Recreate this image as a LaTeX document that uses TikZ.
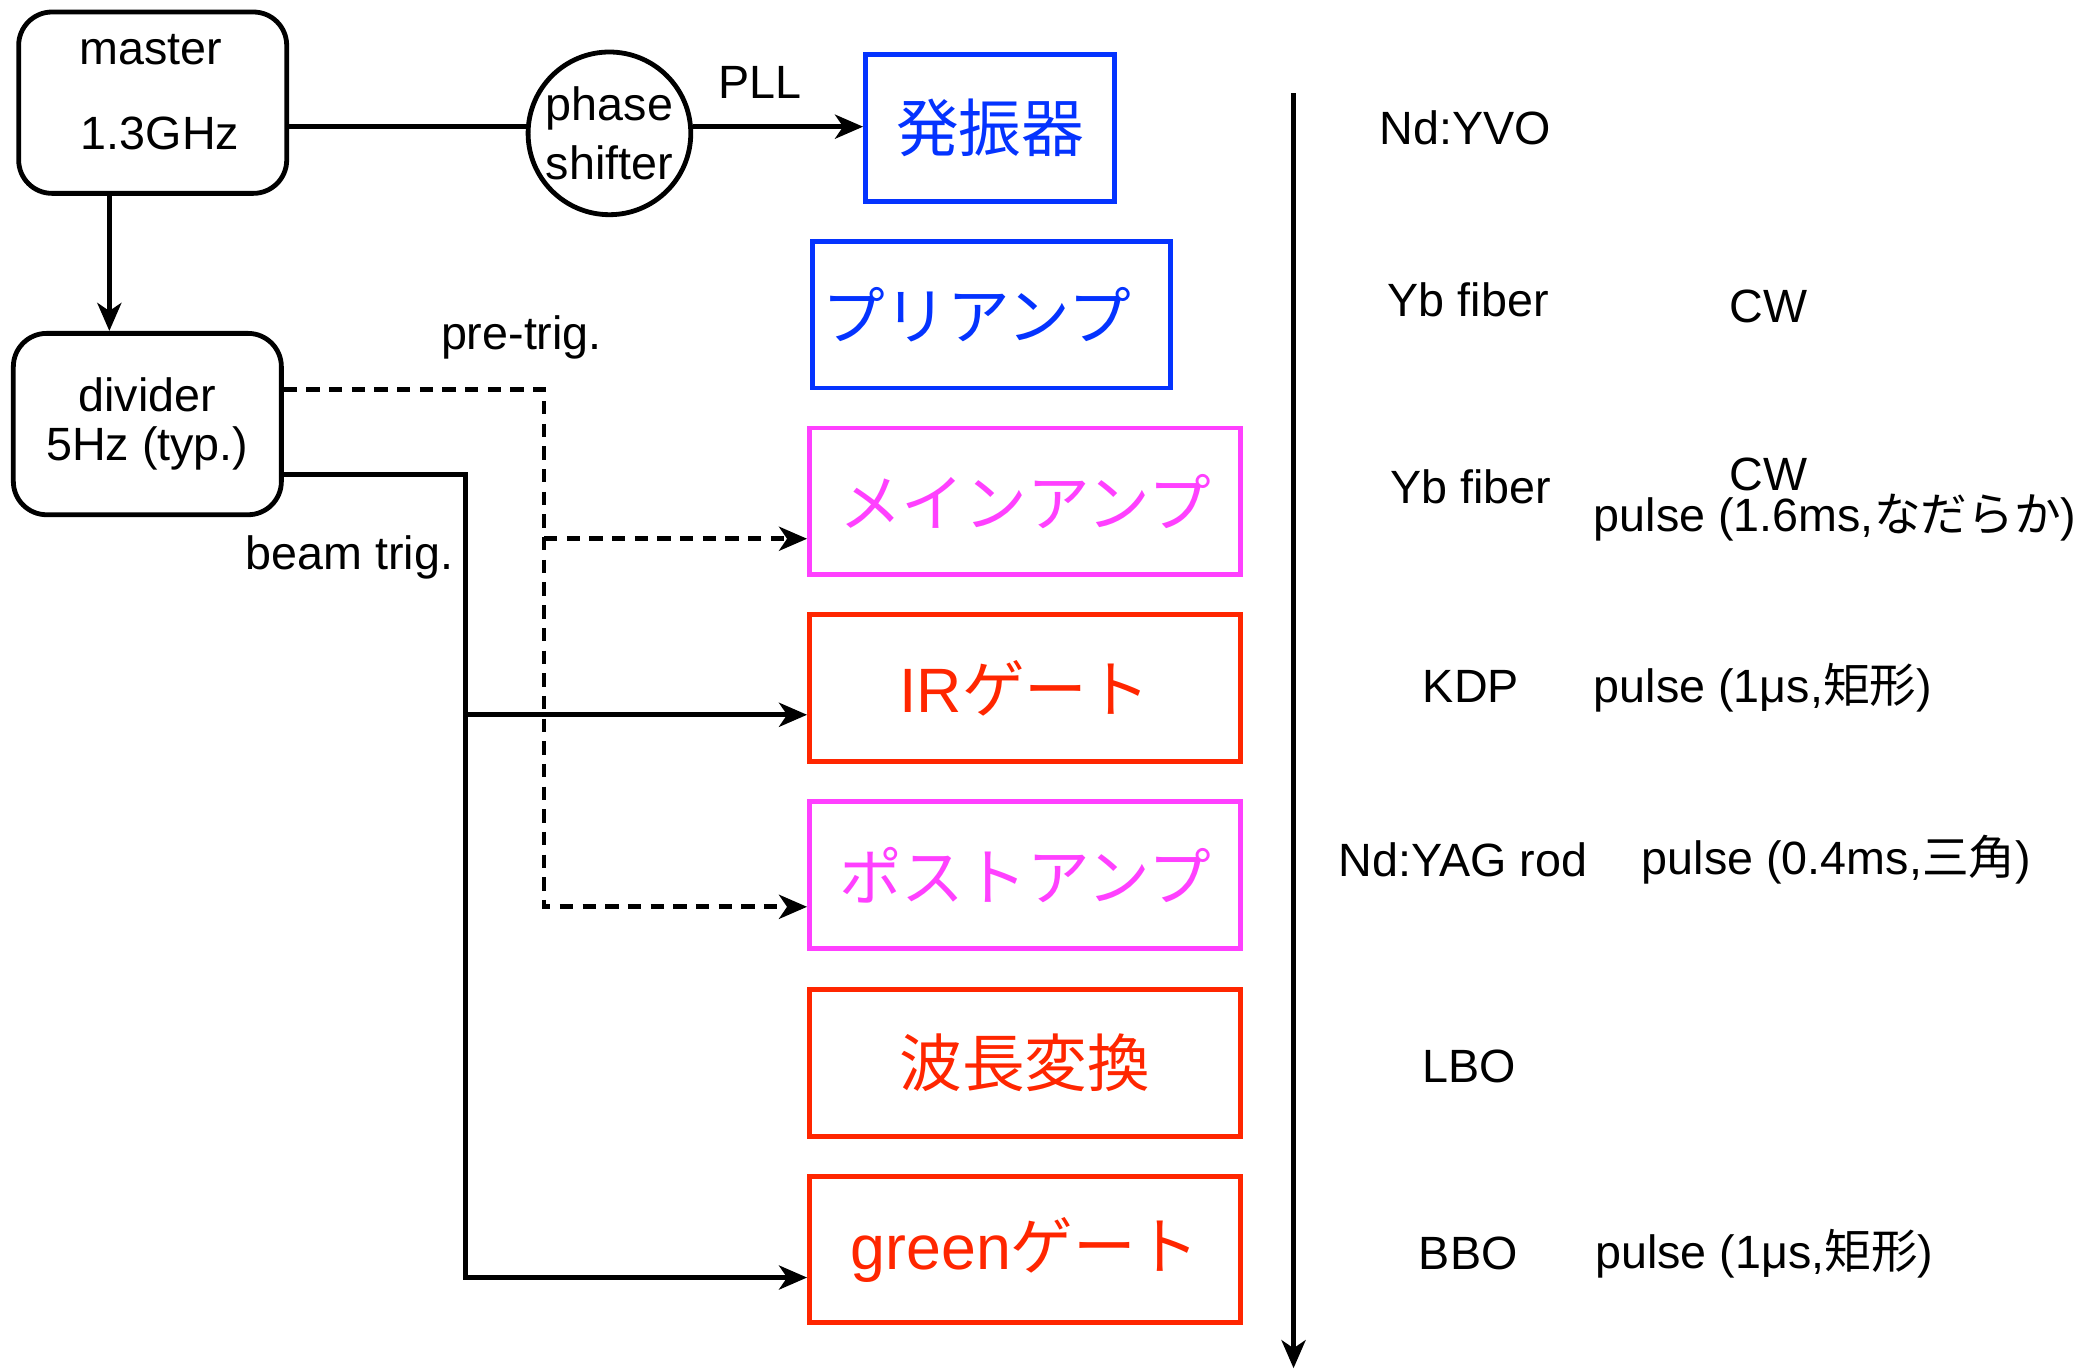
\documentclass[tikz,border=0pt]{standalone}
\usepackage{fontspec}
\setmainfont{Liberation Sans}
\newfontfamily\jp{Noto Sans CJK JP}
\usetikzlibrary{arrows.meta,calc}
\definecolor{cblue}{HTML}{0433FF}
\definecolor{cmag}{HTML}{FF40FF}
\definecolor{cred}{HTML}{FF2600}
\begin{document}
\begin{tikzpicture}[x=1pt,y=-1pt,
  every node/.style={font=\fontsize{35}{37}\selectfont, inner sep=0pt},
  rbox/.style={draw, line width=3.6pt, rounded corners=25pt, minimum width=201pt, minimum height=136pt},
  stage/.style={draw, line width=3.6pt, minimum width=323pt, minimum height=110pt, font=\fontsize{47}{50}\selectfont\jp},
  con/.style={line width=3.6pt},
  arr/.style={-{Stealth[length=21pt,width=18pt,inset=6pt]}},
  dsh/.style={dash pattern=on 10pt off 7pt}]
\useasboundingbox (0,0) rectangle (1568,1027);

% master and divider
\node[rbox] (master) at (114.5,77) {};
\node (mt1) at (113,37) {master};
\node (mt2) at (120,100) {1.3GHz};
\node[rbox, align=center] (div) at (110.5,318) {divider\\5Hz (typ.)};

% phase shifter
\node[draw, circle, line width=3.6pt, minimum size=122pt, align=center, font=\fontsize{35}{44}\selectfont] (ps) at (457,100) {phase\\shifter};

% stages
\node[stage, draw=cblue, text=cblue, minimum width=187pt] (osc) at (742.5,96) {発振器};
\node[stage, draw=cblue, text=cblue, minimum width=269pt, text width=260pt, align=left] (pre) at (743.5,236) {\hspace*{3pt}プリアンプ};
\node[stage, draw=cmag, text=cmag] (main) at (768.5,376) {メインアンプ};
\node[stage, draw=cred, text=cred] (ir) at (768.5,516) {{\rmfamily IR}ゲート};
\node[stage, draw=cmag, text=cmag] (post) at (768.5,656) {ポストアンプ};
\node[stage, draw=cred, text=cred] (wl) at (768.5,797) {波長変換};
\node[stage, draw=cred, text=cred] (green) at (768.5,937) {{\rmfamily green}ゲート};

% master -> divider
\coordinate (mx) at (82,0);
\draw[con,arr] (master.south -| mx) -- (div.north -| mx);

% master -> phase shifter -> oscillator
\coordinate (py) at (0,95);
\draw[con] (master.east |- py) -- (ps.west |- py);
\draw[con,arr] (ps.east |- py) -- (osc.west |- py);
\node (pll) at (570,62) {PLL};

% pre-trig (dashed)
\coordinate (dj) at (408,292);
\coordinate (dm) at (408,404);
\coordinate (dp) at (408,680);
\draw[con,dsh,arr] (div.east |- dj) -- (dj) |- (post.west |- dp);
\draw[con,dsh,arr] (dm) -- (main.west |- dm);
\node (pretrig) at (391,253) {pre-trig.};

% beam trig (solid)
\coordinate (bj) at (349,356);
\coordinate (bi) at (349,536);
\coordinate (bg) at (349,958);
\draw[con,arr] (div.east |- bj) -- (bj) |- (green.west |- bg);
\draw[con,arr] (bi) -- (ir.west |- bi);
\node (beamtrig) at (262,418) {beam trig.};

% axis
\coordinate (ta) at (970,70);
\coordinate (tb) at (970,1026);
\draw[con,arr] (ta) -- (tb);

% right column
\node (m1) at (1099,96) {Nd:YVO};
\node (m2) at (1101,225) {Yb fiber};
\node (c2) at (1326,230) {CW};
\node (m3) at (1103,365) {Yb fiber};
\node (c3) at (1326,356) {CW};
\node[anchor=west] (p3) at (1195,388) {pulse (1.6ms,{\jp なだらか})};
\node (m4) at (1103,515) {KDP};
\node[anchor=west] (p4) at (1195,516) {pulse (1μs,{\jp 矩形})};
\node (m5) at (1097,645) {Nd:YAG rod};
\node[anchor=west] (p5) at (1231,645) {pulse (0.4ms,{\jp 三角})};
\node (m6) at (1102,800) {LBO};
\node (m7) at (1101,940) {BBO};
\node[anchor=west] (p7) at (1196,940) {pulse (1μs,{\jp 矩形})};
\end{tikzpicture}
\end{document}
